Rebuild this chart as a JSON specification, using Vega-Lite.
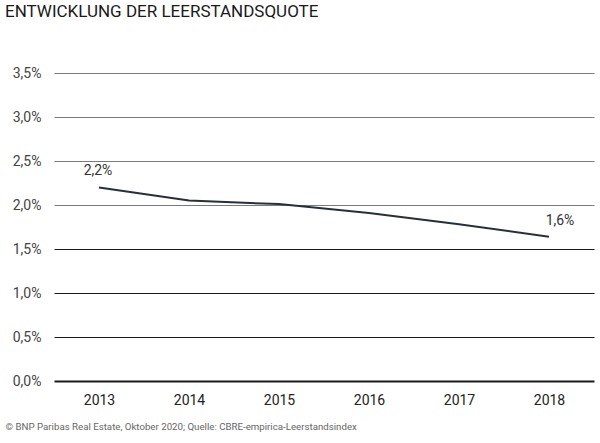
{
  "$schema": "https://vega.github.io/schema/vega-lite/v6.json",
  "width": 540,
  "height": 308,
  "autosize": {"type": "none"},
  "padding": {"left": 54, "top": 73, "right": 6, "bottom": 62},
  "background": "white",
  "config": {
    "locale": {"number": {"decimal": ",", "thousands": ".", "grouping": [3], "currency": ["", " €"]}},
    "view": {"stroke": null},
    "font": "Roboto"
  },
  "title": {
    "text": "ENTWICKLUNG DER LEERSTANDSQUOTE",
    "anchor": "start",
    "frame": "group",
    "dx": -49,
    "offset": 45,
    "fontSize": 17,
    "fontWeight": "normal",
    "font": "Roboto",
    "color": "#1a1a1a"
  },
  "data": {
    "values": [
      {"year": "2013", "rate": 0.022},
      {"year": "2014", "rate": 0.0205},
      {"year": "2015", "rate": 0.0201},
      {"year": "2016", "rate": 0.0191},
      {"year": "2017", "rate": 0.0178},
      {"year": "2018", "rate": 0.0164}
    ]
  },
  "encoding": {
    "x": {
      "field": "year",
      "type": "ordinal",
      "scale": {"type": "point", "padding": 0.5},
      "axis": {
        "title": "© BNP Paribas Real Estate, Oktober 2020; Quelle: CBRE-empirica-Leerstandsindex",
        "titleFont": "Roboto",
        "titleFontSize": 9.7,
        "titleFontWeight": "normal",
        "titleColor": "#666666",
        "titleAlign": "left",
        "titleBaseline": "alphabetic",
        "titleX": -49,
        "titleY": 48,
        "labelAngle": 0,
        "labelFont": "Roboto",
        "labelFontSize": 14,
        "labelColor": "#222222",
        "labelPadding": 12,
        "domain": false,
        "ticks": false,
        "grid": false
      }
    },
    "y": {
      "field": "rate",
      "type": "quantitative",
      "scale": {"domain": [0, 0.035]},
      "axis": {
        "title": null,
        "values": [0, 0.005, 0.01, 0.015, 0.02, 0.025, 0.03, 0.035],
        "format": ".1%",
        "labelFont": "Roboto",
        "labelFontSize": 14,
        "labelColor": "#444444",
        "labelPadding": 13,
        "domain": false,
        "ticks": false,
        "grid": true,
        "gridColor": {"condition": {"test": "datum.value >= 0.02", "value": "#7a7a7a"}, "value": "#1a1a1a"},
        "gridWidth": {"condition": {"test": "datum.value == 0", "value": 2}, "value": 1.2},
        "gridOpacity": 1
      }
    }
  },
  "layer": [
    {
      "mark": {"type": "line", "color": "#26303b", "strokeWidth": 2}
    },
    {
      "transform": [{"filter": "datum.year == '2013'"}],
      "mark": {"type": "text", "font": "Roboto", "fontSize": 14, "color": "#333333", "dx": -1, "dy": -16},
      "encoding": {
        "text": {"field": "rate", "type": "quantitative", "format": ".1%"}
      }
    },
    {
      "transform": [{"filter": "datum.year == '2018'"}],
      "mark": {"type": "text", "font": "Roboto", "fontSize": 14, "color": "#333333", "dx": 11, "dy": -16},
      "encoding": {
        "text": {"field": "rate", "type": "quantitative", "format": ".1%"}
      }
    }
  ]
}
